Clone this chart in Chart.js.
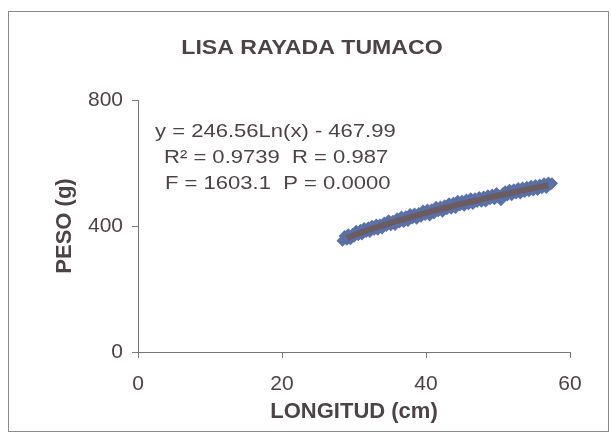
<!DOCTYPE html>
<html>
<head>
<meta charset="utf-8">
<script src="https://cdn.jsdelivr.net/npm/chart.js@4/dist/chart.umd.min.js"></script>
<style>
  html, body { margin: 0; padding: 0; background: #fff; }
  canvas { display: block; }
</style>
</head>
<body>
<canvas id="grafico" width="611" height="443"></canvas>
<script>
// datos
const longitud = [28.4, 28.7, 29.0, 29.2, 29.5, 29.8, 30.0, 30.3, 30.6, 30.9, 31.1, 31.4, 31.7, 32.0, 32.2, 32.5, 32.8, 33.1, 33.3, 33.6,
  33.9, 34.2, 34.5, 34.8, 35.1, 35.4, 35.7, 36.0, 36.3, 36.6, 36.9, 37.2, 37.5, 37.8, 38.1, 38.4, 38.7, 39.0, 39.3, 39.6,
  39.9, 40.2, 40.5, 40.8, 41.1, 41.4, 41.7, 42.0, 42.3, 42.6, 42.9, 43.2, 43.5, 43.8, 44.1, 44.4, 44.7, 45.0, 45.3, 45.6,
  45.9, 46.2, 46.5, 46.8, 47.1, 47.4, 47.7, 48.0, 48.3, 48.6, 48.9, 49.2, 49.5, 49.8, 50.1, 50.4, 50.7, 51.0, 51.3, 51.6,
  51.9, 52.2, 52.5, 52.8, 53.1, 53.4, 53.7, 54.0, 54.3, 54.6, 54.9, 55.2, 55.5, 55.8, 56.1, 56.4, 56.7, 57.0, 57.3, 57.5];
const peso = [353, 368, 356, 374, 358, 375, 366, 385, 371, 388, 373, 394, 381, 396, 381, 401, 388, 405, 388, 405,
  392, 411, 400, 418, 402, 417, 403, 425, 411, 430, 413, 431, 416, 438, 424, 440, 423, 441, 429, 449,
  435, 452, 433, 453, 440, 461, 447, 462, 445, 466, 453, 472, 455, 474, 457, 480, 465, 480, 464, 484,
  469, 488, 470, 488, 476, 492, 477, 494, 478, 498, 485, 500, 485, 505, 493, 482, 505, 510, 497, 515,
  498, 517, 503, 521, 503, 522, 508, 525, 510, 528, 513, 530, 514, 532, 520, 536, 521, 538, 532, 536];

// linea de tendencia (logaritmica)
const tendX = [29, 30, 31, 32, 33, 34, 35, 36, 37, 38, 39, 40, 41, 42, 43, 44, 45, 46, 47, 48, 49, 50, 51, 52, 53, 54, 55, 56, 57];
const tendY = [362, 371, 379, 387, 394, 402, 409, 416, 422, 429, 435, 442, 448, 454, 459, 465, 471, 476, 481, 487, 492, 497, 501, 506, 511, 516, 520, 525, 529];

const ticksX = [0, 20, 40, 60];
const ticksY = [0, 400, 800];
const titulo = 'LISA RAYADA TUMACO';
const ecuacion = ['y = 246.56Ln(x) - 467.99', 'R\u00B2 = 0.9739  R = 0.987', 'F = 1603.1  P = 0.0000'];

const gris = '#4a4447';
const fuente = 'Liberation Sans, Arial, sans-serif';

const puntos = longitud.map((x, i) => ({ x: x, y: peso[i] }));
const tendencia = tendX.map((x, i) => ({ x: x, y: tendY[i] }));

// texto un poco ensanchado como en el original escaneado
function textoAncho(c, t, x, y, ancho) {
  c.save();
  c.translate(x, y);
  c.scale(ancho, 1);
  c.fillText(t, 0, 0);
  c.restore();
}

const marco = {
  id: 'marco',
  beforeDraw(chart) {
    const c = chart.ctx;
    c.save();
    c.fillStyle = '#fff';
    c.fillRect(0, 0, chart.width, chart.height);
    c.strokeStyle = '#8a8a8a';
    c.lineWidth = 1;
    c.strokeRect(8.5, 11.5, 600, 420);
    c.restore();
  }
};

const textos = {
  id: 'textos',
  afterDatasetsDraw(chart) {
    const c = chart.ctx;
    c.save();
    c.fillStyle = gris;
    c.textBaseline = 'middle';
    c.textAlign = 'center';
    c.font = 'bold 21px ' + fuente;
    textoAncho(c, titulo, 312, 48, 1.1);
    c.textAlign = 'left';
    c.font = '19px ' + fuente;
    const pos = [[155, 132], [164, 158], [165, 184]];
    ecuacion.forEach((t, i) => textoAncho(c, t, pos[i][0], pos[i][1], 1.16));
    c.restore();
  }
};

new Chart(document.getElementById('grafico'), {
  type: 'scatter',
  data: {
    datasets: [{
      type: 'line',
      label: 'tendencia',
      data: tendencia,
      borderColor: '#6b5c62',
      borderWidth: 6,
      pointRadius: 0,
      tension: 0.4,
      fill: false,
      order: 0
    }, {
      label: 'peso',
      data: puntos,
      pointStyle: 'rectRot',
      pointRadius: 6,
      backgroundColor: '#5a71a6',
      borderWidth: 0,
      order: 1
    }]
  },
  options: {
    responsive: false,
    animation: false,
    layout: { padding: { left: 0, right: 41, top: 100, bottom: 0 } },
    plugins: {
      legend: { display: false },
      tooltip: { enabled: false },
      title: { display: false }
    },
    scales: {
      x: {
        type: 'linear',
        min: 0, max: 60,
        afterFit: s => { s.height = 91; },
        afterBuildTicks: s => { s.ticks = ticksX.map(v => ({ value: v })); },
        ticks: { color: gris, padding: 14, font: { family: fuente, size: 21 } },
        grid: { drawOnChartArea: false, tickLength: 6, color: '#777' },
        border: { color: '#777', width: 1 },
        title: {
          display: true, text: 'LONGITUD (cm)', color: gris, padding: 18,
          font: { family: fuente, size: 22, weight: 'bold' }
        }
      },
      y: {
        type: 'linear',
        min: 0, max: 800,
        afterFit: s => { s.width = 138; },
        afterBuildTicks: s => { s.ticks = ticksY.map(v => ({ value: v })); },
        ticks: { color: gris, padding: 9, font: { family: fuente, size: 21 } },
        grid: { drawOnChartArea: false, tickLength: 6, color: '#777' },
        border: { color: '#777', width: 1 },
        title: {
          display: true, text: 'PESO (g)', color: gris, padding: 52,
          font: { family: fuente, size: 22, weight: 'bold' }
        }
      }
    }
  },
  plugins: [marco, textos]
});
</script>
</body>
</html>
